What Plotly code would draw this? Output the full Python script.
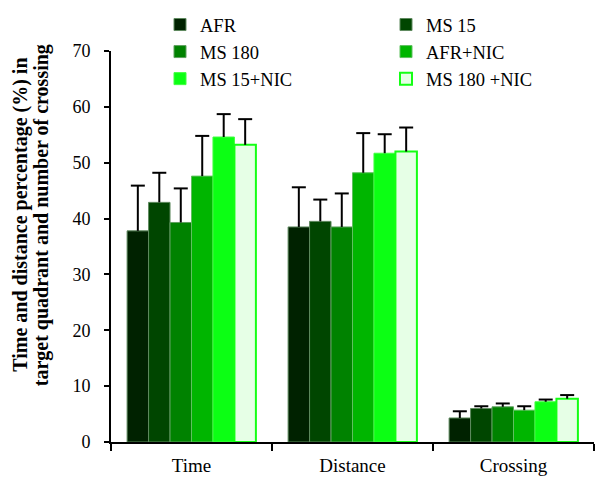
import plotly.graph_objects as go

categories = ["Time", "Distance", "Crossing"]
series_names = ["AFR", "MS 15", "MS 180", "AFR+NIC", "MS 15+NIC", "MS 180 +NIC"]

# values per series across categories (Time, Distance, Crossing)
afr = [37.8, 38.5, 4.3]
ms15 = [42.9, 39.5, 6.0]
ms180 = [39.3, 38.5, 6.3]
afr_nic = [47.6, 48.2, 5.7]
ms15_nic = [54.6, 51.7, 7.2]
ms180_nic = [53.2, 52.0, 7.75]

afr_err = [8.1, 7.1, 1.2]
ms15_err = [5.3, 3.9, 0.4]
ms180_err = [6.1, 6.0, 0.6]
afr_nic_err = [7.2, 7.1, 0.7]
ms15_nic_err = [4.1, 3.4, 0.4]
ms180_nic_err = [4.6, 4.3, 0.65]

y_ticks = [0, 10, 20, 30, 40, 50, 60, 70]

values = [afr, ms15, ms180, afr_nic, ms15_nic, ms180_nic]
errors = [afr_err, ms15_err, ms180_err, afr_nic_err, ms15_nic_err, ms180_nic_err]
fills = ["#002200", "#004600", "#008200", "#00b500", "#0cff14", "#e6ffe6"]
edges = ["#5f8a5f", "#5f8a5f", "#5fa05f", "#5fc05f", "#40ff40", "#14ff14"]
edge_w = [1, 1, 1, 1, 1, 2]

serif = "Liberation Serif"
n = len(series_names)
group = 0.8
w = group / n

fig = go.Figure()
for j in range(n):
    xs = [i + (j - (n - 1) / 2) * w for i in range(len(categories))]
    fig.add_trace(go.Bar(
        x=xs, y=values[j], width=w, name=series_names[j],
        marker=dict(color=fills[j], line=dict(color=edges[j], width=edge_w[j])),
    ))
for j in range(n):
    xs = [i + (j - (n - 1) / 2) * w for i in range(len(categories))]
    lx, ly = [], []
    for x, v, e in zip(xs, values[j], errors[j]):
        lx += [x, x, None]
        ly += [v, v + e, None]
    fig.add_trace(go.Scatter(x=lx, y=ly, mode="lines", line=dict(color="black", width=2),
                             showlegend=False, hoverinfo="skip"))
    fig.add_trace(go.Scatter(x=xs, y=[v + e for v, e in zip(values[j], errors[j])],
                             mode="markers",
                             marker=dict(symbol="line-ew", size=10,
                                         line=dict(color="black", width=2)),
                             showlegend=False, hoverinfo="skip"))

fig.update_layout(
    width=595, height=477,
    margin=dict(l=111, r=1, t=51, b=35, autoexpand=False),
    paper_bgcolor="white", plot_bgcolor="white",
    font=dict(family=serif, color="black", size=18),
    showlegend=True,
    legend=dict(orientation="h", xref="container", yref="container",
                x=160 / 595, y=1 - 6 / 477, xanchor="left", yanchor="top",
                entrywidth=181, entrywidthmode="pixels",
                font=dict(family=serif, size=18.5), bgcolor="rgba(0,0,0,0)",
                tracegroupgap=0, itemwidth=30),
    xaxis=dict(range=[-0.5, 2.5], tickvals=[0, 1, 2], ticktext=categories,
               ticks="", showgrid=False, zeroline=False,
               showline=True, linecolor="black", linewidth=2,
               tickfont=dict(family=serif, size=19), ticklabelstandoff=5,
               minor=dict(tickvals=[-0.5, 0.5, 1.5, 2.5], ticks="outside", ticklen=7,
                          tickcolor="black", tickwidth=2, showgrid=False)),
    yaxis=dict(range=[0, 70], tickvals=y_ticks, ticks="outside", ticklen=5,
               tickcolor="black", tickwidth=2, showgrid=False, zeroline=False,
               showline=True, linecolor="black", linewidth=2,
               tickfont=dict(family=serif, size=18), ticklabelstandoff=10),
    annotations=[
        dict(text="<b>Time and distance percentage (%) in</b>", textangle=-90,
             xref="paper", yref="paper", x=(20.5 - 111) / 483, y=0.58,
             xanchor="center", yanchor="middle", showarrow=False,
             font=dict(family=serif, size=20)),
        dict(text="<b>target quadrant and number of crossing</b>", textangle=-90,
             xref="paper", yref="paper", x=(41 - 111) / 483, y=0.58,
             xanchor="center", yanchor="middle", showarrow=False,
             font=dict(family=serif, size=20)),
    ],
)

fig.write_html("out.html", config={"displayModeBar": False},
               post_script="document.body.style.margin='0';")
